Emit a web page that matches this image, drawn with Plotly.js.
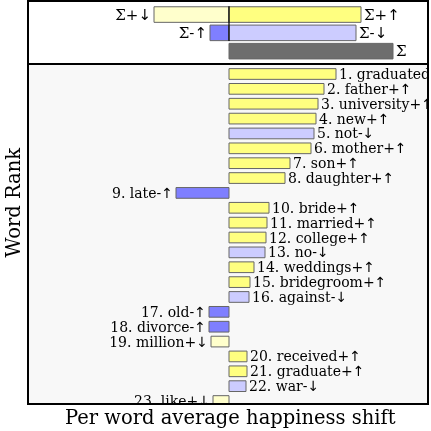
<!DOCTYPE html>
<html>
<head>
<meta charset="utf-8">
<script src="https://cdn.plot.ly/plotly-3.0.1.min.js"></script>
<style>
html,body{margin:0;padding:0;background:#fff;}
#chart{width:431px;height:431px;}
#chart text{filter:grayscale(100%);}
</style>
</head>
<body>
<div id="chart"></div>
<script>
// Word shift data (per word average happiness shift, arbitrary units)
const words = ["graduated","father","university","new","not","mother","son","daughter","late","bride",
  "married","college","no","weddings","bridegroom","against","old","divorce","million","received",
  "graduate","war","like"];
const shiftValues = [107,95,89,87,85,82,61,56,-53,40,38,37,36,25,21,20,-20,-20,-18,18,18,17,-16];
const shiftTypes = ["+↑","+↑","+↑","+↑","-↓","+↑","+↑","+↑","-↑","+↑","+↑","+↑","-↓","+↑","+↑","-↓","-↑","-↑","+↓","+↑","+↑","-↓","+↓"];

// Summary bars
const sumLabels = ["Σ+↓","Σ+↑","Σ-↑","Σ-↓","Σ"];
const sumValues = [-75,132,-19,127,164];
const sumRows = [1,1,2,2,3];

const typeColors = {"+↑":"#ffff80","+↓":"#ffffcc","-↑":"#7f7fff","-↓":"#ccccff"};
const sumColors = {"Σ+↓":"#ffffcc","Σ+↑":"#ffff80","Σ-↑":"#7f7fff","Σ-↓":"#ccccff","Σ":"#6e6e6e"};

const FONT = "DejaVu Serif";
const arrowFix = s => s.replace(/([↑↓])/g, '<span style="font-family:DejaVu Sans">$1</span>');
const ranks = words.map((w,i)=>i+1);
const labels = words.map((w,i)=>arrowFix((i+1)+". "+w+shiftTypes[i]));

const wordTrace = {
  type:"bar", orientation:"h",
  x: shiftValues, y: ranks,
  xaxis:"x", yaxis:"y",
  width:0.72,
  marker:{color: shiftTypes.map(t=>typeColors[t]), line:{color:"#666", width:1}},
  text: labels, textposition:"outside", constraintext:"none", cliponaxis:true,
  textfont:{family:FONT, size:14, color:"#000"},
  hoverinfo:"none"
};
const sumTrace = {
  type:"bar", orientation:"h",
  x: sumValues, y: sumRows,
  xaxis:"x", yaxis:"y2",
  width:0.85,
  marker:{color: sumLabels.map(l=>sumColors[l]), line:{color:"#666", width:1}},
  text: sumLabels.map(arrowFix), textposition:"outside", constraintext:"none", cliponaxis:true,
  textfont:{family:FONT, size:15, color:"#000"},
  hoverinfo:"none"
};

const split = 0.8437;
const layout = {
  width:431, height:431,
  margin:{l:28, r:3, t:1, b:27},
  paper_bgcolor:"#fff", plot_bgcolor:"rgba(0,0,0,0)",
  showlegend:false, barmode:"overlay",
  font:{family:FONT, color:"#000"},
  xaxis:{range:[-201,199], showticklabels:false, showgrid:false, zeroline:false, ticks:"", fixedrange:true},
  yaxis:{domain:[0,split], range:[23.2,0.327], showticklabels:false, showgrid:false, zeroline:false, ticks:""},
  yaxis2:{domain:[split,1], range:[3.7,0.26], anchor:"x", showticklabels:false, showgrid:false, zeroline:false, ticks:""},
  shapes:[
    {type:"rect", xref:"paper", yref:"paper", x0:0, x1:1, y0:0, y1:split, fillcolor:"#f8f8f8", line:{width:0}, layer:"below"},
    {type:"line", xref:"x", yref:"y2", x0:0, x1:0, y0:0.55, y1:2.45, line:{color:"#000", width:1.2}, layer:"above"},
    {type:"rect", xref:"paper", yref:"paper", x0:0, x1:1, y0:0, y1:1, line:{color:"#000", width:2}, layer:"above"},
    {type:"line", xref:"paper", yref:"paper", x0:0, x1:1, y0:split, y1:split, line:{color:"#000", width:2}, layer:"above"}
  ],
  annotations:[
    {text:"Word Rank", xref:"paper", yref:"paper", x:-0.0375, y:0.5, xanchor:"center", yanchor:"middle",
     textangle:-90, showarrow:false, font:{family:FONT, size:19.5, color:"#000"}},
    {text:"Per word average happiness shift", xref:"paper", yref:"paper", x:0.505, y:-0.033,
     xanchor:"center", yanchor:"middle", showarrow:false, font:{family:FONT, size:19.5, color:"#000"}}
  ]
};
Plotly.newPlot("chart", [wordTrace, sumTrace], layout, {staticPlot:true, displayModeBar:false});
</script>
</body>
</html>
